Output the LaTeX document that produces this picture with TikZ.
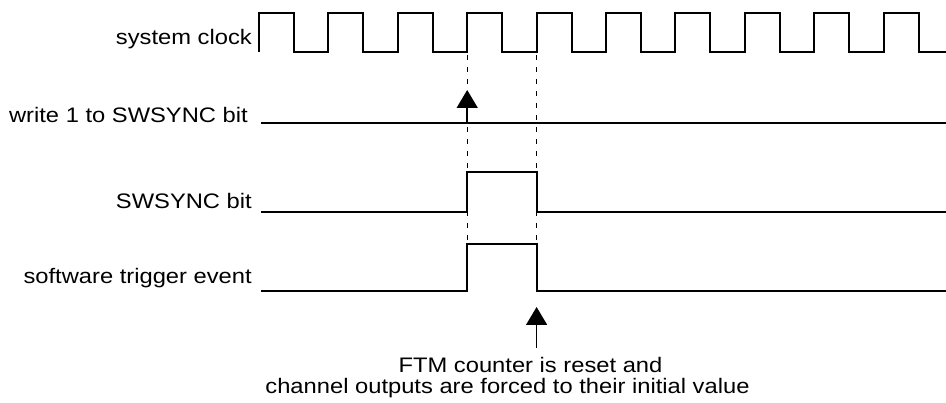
\documentclass[tikz,border=0pt]{standalone}
\usepackage{fontspec}
\setmainfont{Liberation Sans}
\usetikzlibrary{arrows.meta}

\begin{document}
\begin{tikzpicture}[
    x=1pt, y=-1pt,
    >={Triangle[width=21pt,length=18pt]},
    every node/.style={font=\fontsize{21}{24}\selectfont, inner sep=0pt, xscale=1.13},
    lbl/.style={anchor=base east},
    note/.style={anchor=base},
    sig/.style={line width=2pt, line join=miter},
    guide/.style={line width=1pt, dash pattern=on 5pt off 7pt}
]
\useasboundingbox (0,0) rectangle (946,403);
\coordinate (e1) at (467.2,52);
\coordinate (e2) at (536.6,52);
\node[lbl] (clk) at (252,45) {system clock};
\node[lbl] (wr) at (248,123) {write 1 to SWSYNC bit};
\node[lbl] (bit) at (252,209) {SWSYNC bit};
\node[lbl] (trg) at (252,284) {software trigger event};
\node[note] (note1) at (530.5,373) {FTM counter is reset and};
\node[note] (note2) at (507.5,394) {channel outputs are forced to their initial value};
\draw[guide] (e1) ++(0,3) -- (e1 |- 0,244);
\draw[guide] (e2) ++(0,3) -- (e2 |- 0,244);
\draw[sig] (259,52) \foreach \k in {0,...,8} {-- ++(0,-39) -- ++(35,0) -- ++(0,39) -- ++(34.4,0)} -- ++(0,-39) -- ++(35,0) -- ++(0,39) -- (946,52);
\draw[sig] (261,123) -- (946,123);
\draw[sig] (261,212) -- (e1 |- 0,212) -- (e1 |- 0,172) -- (e2 |- 0,172) -- (e2 |- 0,212) -- (946,212);
\draw[sig] (261,291) -- (e1 |- 0,291) -- (e1 |- 0,244) -- (e2 |- 0,244) -- (e2 |- 0,291) -- (946,291);
\draw[->, line width=1.5pt] (e1 |- 0,123) -- (e1 |- 0,90);
\draw[->, line width=1.5pt] (e2 |- 0,348) -- (e2 |- 0,307);
\end{tikzpicture}
\end{document}
